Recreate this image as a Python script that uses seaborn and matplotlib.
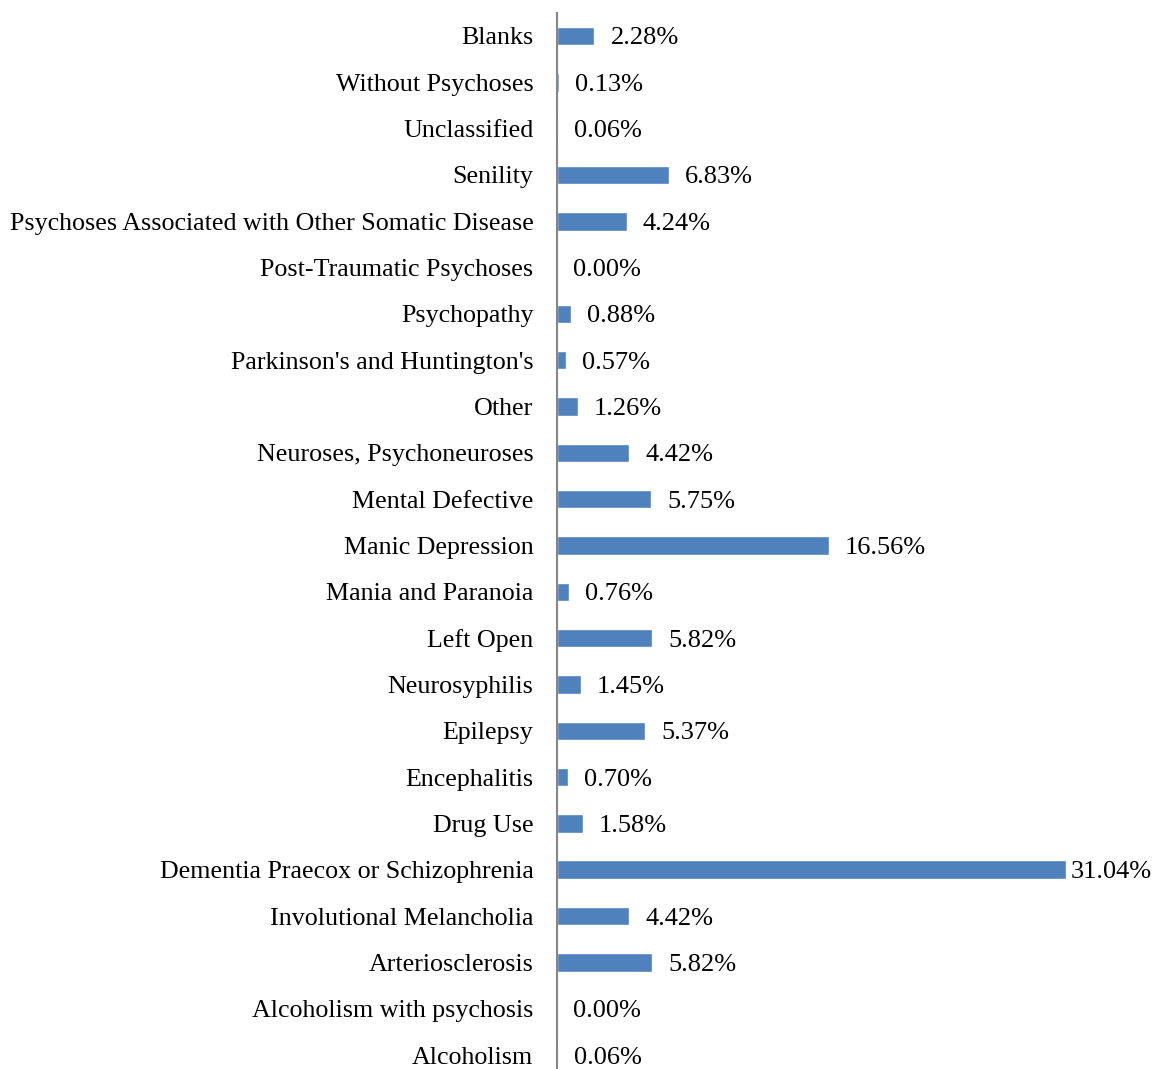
import matplotlib
matplotlib.use("Agg")
import matplotlib.pyplot as plt
import seaborn as sns
import pandas as pd

categories = [
    "Blanks",
    "Without Psychoses",
    "Unclassified",
    "Senility",
    "Psychoses Associated with Other Somatic Disease",
    "Post-Traumatic Psychoses",
    "Psychopathy",
    "Parkinson's and Huntington's",
    "Other",
    "Neuroses, Psychoneuroses",
    "Mental Defective",
    "Manic Depression",
    "Mania and Paranoia",
    "Left Open",
    "Neurosyphilis",
    "Epilepsy",
    "Encephalitis",
    "Drug Use",
    "Dementia Praecox or Schizophrenia",
    "Involutional Melancholia",
    "Arteriosclerosis",
    "Alcoholism with psychosis",
    "Alcoholism",
]
percentages = [
    2.28, 0.13, 0.06, 6.83, 4.24, 0.00, 0.88, 0.57, 1.26, 4.42, 5.75, 16.56,
    0.76, 5.82, 1.45, 5.37, 0.70, 1.58, 31.04, 4.42, 5.82, 0.00, 0.06,
]

df = pd.DataFrame({"category": categories, "pct": percentages})

sns.set_theme(style="white")
plt.rcParams["font.family"] = ["Liberation Serif", "DejaVu Serif"]

W, H = 1153, 1069
fig = plt.figure(figsize=(W / 100, H / 100), dpi=100)
# axes placed in pixel terms: left spine at x=557, rows from y=36 to y=1055
left_px, right_px = 557, 1152
px_per_unit = 16.4
row_step = (1055 - 36) / 22
top_px = 36 - row_step / 2
bottom_px = 1055 + row_step / 2
ax = fig.add_axes([left_px / W, 1 - bottom_px / H,
                   (right_px - left_px) / W, (bottom_px - top_px) / H])

sns.barplot(data=df, x="pct", y="category", orient="h", color="#4F81BD",
            saturation=1, width=0.4, ax=ax)

xmax = (right_px - left_px) / px_per_unit
ax.set_xlim(0, xmax)
ax.set_ylim(len(categories) - 0.5, -0.5)

label_size = 19
label_w_units = 80 / px_per_unit
for i, v in enumerate(percentages):
    x = v + 16 / px_per_unit
    if x + label_w_units > xmax:
        ax.text(xmax, i, f"{v:.2f}%", va="center_baseline", ha="right",
                fontsize=label_size, color="black")
    else:
        ax.text(x, i, f"{v:.2f}%", va="center_baseline", ha="left",
                fontsize=label_size, color="black")

ax.set_xlabel("")
ax.set_ylabel("")
ax.set_xticks([])
ax.tick_params(axis="y", length=0, pad=17, labelsize=18.7, labelcolor="black")
for s in ["top", "right", "bottom"]:
    ax.spines[s].set_visible(False)
ax.spines["left"].set_color("#868686")
ax.spines["left"].set_linewidth(1.5)
ax.set_facecolor("none")

fig.savefig("out.png", dpi=100)
